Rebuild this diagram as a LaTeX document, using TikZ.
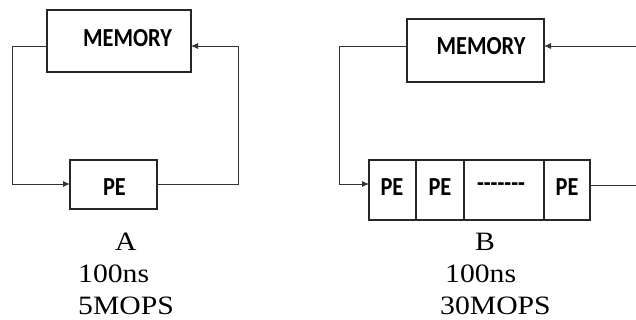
\documentclass[tikz,border=0pt]{standalone}
\usepackage{fontspec}
\setmainfont{Liberation Serif}
\newfontfamily\boxfont[FakeStretch=0.86]{Carlito}
\newfontfamily\capfont[FakeStretch=1.12]{Liberation Serif}
\usetikzlibrary{arrows.meta,calc}
\tikzset{
  unitbox/.style={draw=black!85,line width=1.2pt,inner sep=0pt,outer sep=0pt},
  boxlabel/.style={inner sep=0pt,font=\boxfont\bfseries\fontsize{26}{26}\selectfont},
  caption/.style={inner sep=0pt,anchor=base west,font=\capfont\fontsize{26.5}{26.5}\selectfont},
  wire/.style={draw=black!80,line width=0.9pt},
  tip/.style={-{Latex[length=7pt,width=6pt]}},
}
\begin{document}
\begin{tikzpicture}[x=1pt,y=-1pt]
\useasboundingbox (0,0) rectangle (636,320);

% ---- left system: one processing element ----
\node[unitbox,minimum width=144pt,minimum height=62pt] (memA) at (119,41) {};
\node[boxlabel] (memAtxt) at (127.5,38) {MEMORY};
\node[unitbox,minimum width=87pt,minimum height=49pt] (peA) at (113.5,184.5) {};
\node[boxlabel] (peAtxt) at (114.5,187) {PE};

\coordinate (memAw) at (47,46);
\coordinate (memAe) at (191,46);
\coordinate (peAw) at (70,184);
\coordinate (peAe) at (157,184);
\draw[wire,tip] (memAw) -- (12,46) -- (12,184) -- (peAw);
\draw[wire,tip] (peAe) -- (238,184) -- (238,46) -- (memAe);

\node[caption] (capA) at (115,250) {A};
\node[caption] (timeA) at (78,282) {100ns};
\node[caption] (rateA) at (78,314) {5MOPS};

% ---- right system: a pipeline of processing elements ----
\node[unitbox,minimum width=137pt,minimum height=63pt] (memB) at (475.5,50.5) {};
\node[boxlabel] (memBtxt) at (481,46) {MEMORY};

\node[unitbox,minimum width=47pt,minimum height=60pt] (pe1) at (392.5,190) {};
\node[unitbox,minimum width=48pt,minimum height=60pt] (pe2) at (440,190) {};
\node[unitbox,minimum width=80pt,minimum height=60pt] (pe3) at (504,190) {};
\node[unitbox,minimum width=46pt,minimum height=60pt] (pe4) at (567,190) {};
\node[boxlabel] (pe1txt) at (392,187) {PE};
\node[boxlabel] (pe2txt) at (440,187) {PE};
\node[boxlabel] (pe3txt) at (501,187) {-------};
\node[boxlabel] (pe4txt) at (567,187) {PE};

\coordinate (memBw) at (407,46);
\coordinate (memBe) at (544,46);
\coordinate (pe1w) at (369,184);
\coordinate (pe4e) at (590,185);
\coordinate (rimTop) at (636,46);
\coordinate (rimBot) at (636,185);
\draw[wire,tip] (memBw) -- (339,46) -- (339,184) -- (pe1w);
\draw[wire,tip] (rimTop) -- (memBe);
\draw[wire] (pe4e) -- (rimBot);

\node[caption] (capB) at (475,250) {B};
\node[caption] (timeB) at (445,282) {100ns};
\node[caption] (rateB) at (440,314) {30MOPS};
\end{tikzpicture}
\end{document}
